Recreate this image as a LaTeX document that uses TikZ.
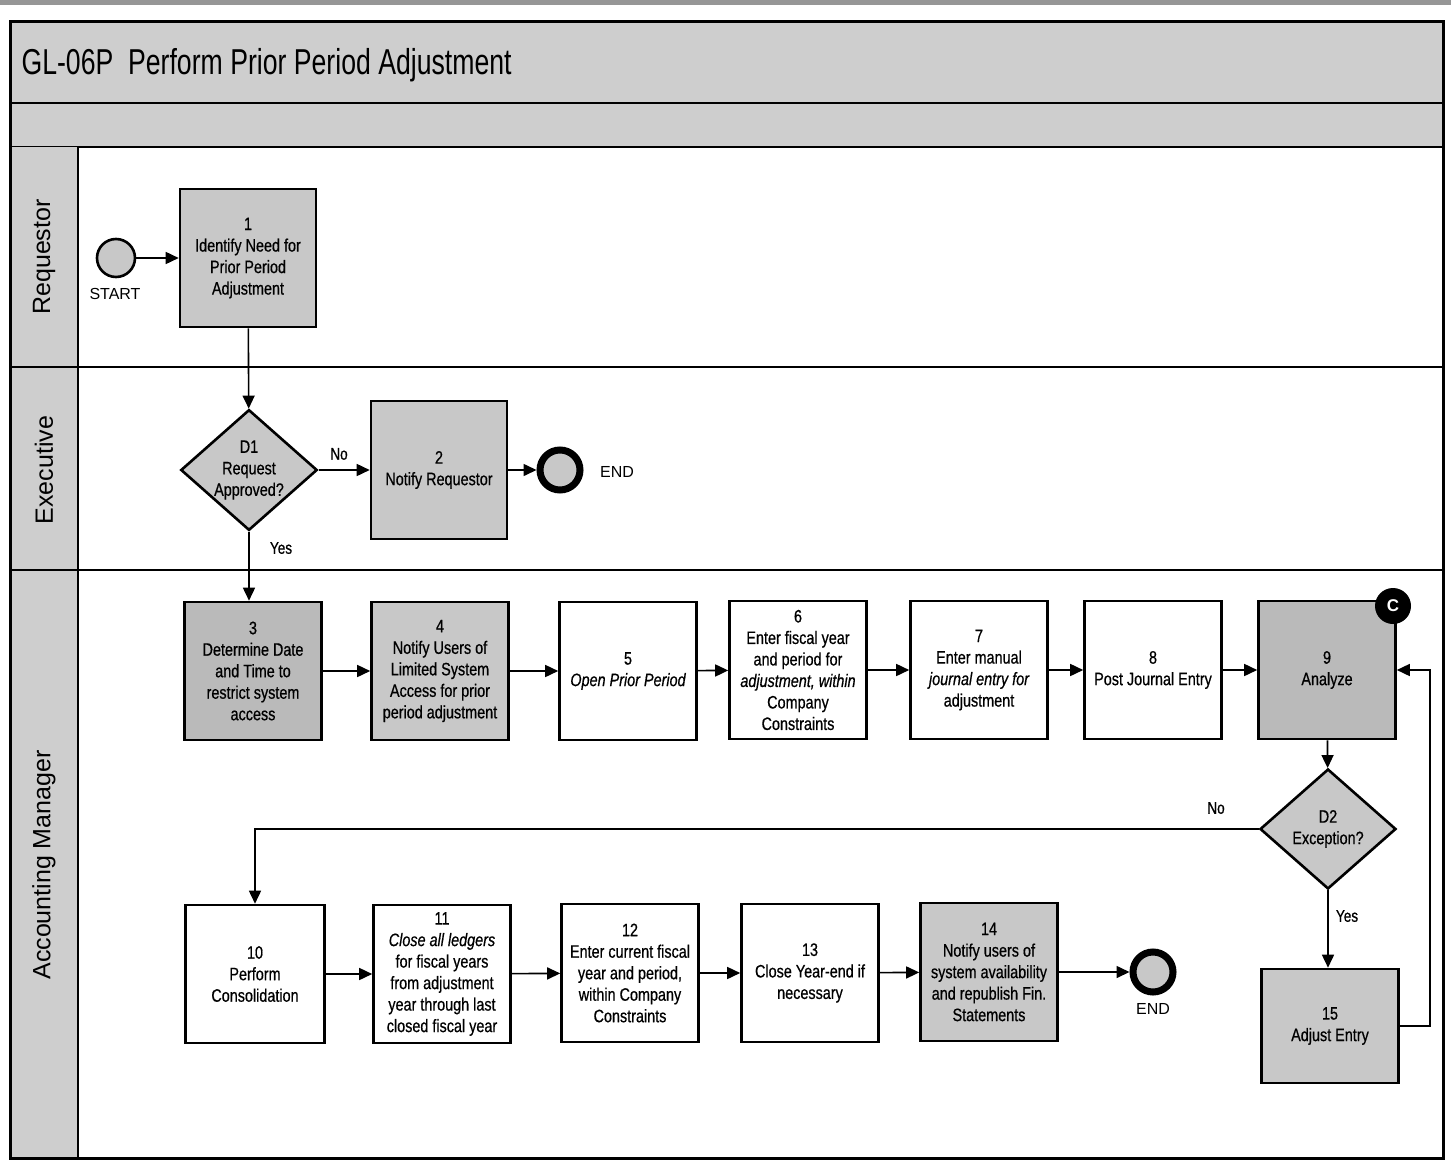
\documentclass[tikz,border=0pt]{standalone}
\usepackage{fontspec}
\setmainfont{Liberation Sans}
\newfontfamily\boxfont[FakeStretch=0.8,FakeBold=0.6]{Liberation Sans}
\newfontfamily\titlefont[FakeStretch=0.74]{Liberation Sans}
\usetikzlibrary{arrows.meta,shapes.geometric}
\definecolor{bandgray}{RGB}{206,206,206}
\definecolor{boxgray}{RGB}{200,200,200}
\definecolor{deepgray}{RGB}{186,186,186}
\definecolor{stripgray}{RGB}{150,150,150}
\begin{document}
\begin{tikzpicture}[x=1pt,y=-1pt,
  proc/.style={draw, line width=2.6pt, minimum width=137pt, minimum height=138pt,
    align=center, inner sep=1pt, font=\boxfont\fontsize{18}{21.5}\selectfont},
  grayproc/.style={proc, fill=boxgray},
  deepproc/.style={proc, fill=deepgray},
  decision/.style={draw, diamond, line width=2.6pt, fill=boxgray, aspect=1.13,
    minimum width=136pt, minimum height=120pt, inner sep=0pt, align=center,
    font=\boxfont\fontsize{18}{21.5}\selectfont},
  startev/.style={draw, circle, line width=2.6pt, fill=boxgray, minimum size=38pt, inner sep=0pt},
  endev/.style={draw, circle, line width=7pt, fill=boxgray, minimum size=40pt, inner sep=0pt},
  flow/.style={line width=1.6pt, -{Triangle[length=13pt,width=12pt]}},
  lbl/.style={font=\boxfont\fontsize{17}{20}\selectfont},
  evtext/.style={font=\fontsize{16}{19}\selectfont},
  lanetext/.style={rotate=90, font=\fontsize{25}{28}\selectfont},
  lane/.style={line width=2.6pt}
]
\useasboundingbox (0,0) rectangle (1451,1164);
\fill[white] (0,0) rectangle (1451,1164);
% scanned strip along the top edge
\fill[stripgray] (0,0) rectangle (1451,5);

% title and sub-title bands
\fill[bandgray] (10,22) rectangle (1443,147);
\draw[lane] (10,103) -- (1443,103);
\draw[lane] (10,147) -- (1443,147);
\node[anchor=west, font=\titlefont\fontsize{36}{40}\selectfont] (title) at (18,65) {GL-06P\ \ Perform Prior Period Adjustment};

% lane header column
\fill[bandgray] (10,147) rectangle (78,1158);
\draw[lane] (78,147) -- (78,1158);
\draw[lane] (10,367) -- (1443,367);
\draw[lane] (10,570) -- (1443,570);
\node[lanetext] (lreq) at (44,257) {Requestor};
\node[lanetext] (lexe) at (44,470) {Executive};
\node[lanetext] (lacc) at (44,865) {Accounting Manager};

% outer frame
\draw[line width=3pt] (10,22) rectangle (1443,1158);

% Requestor lane
\node[startev] (start) at (116,258) {};
\node[evtext] (starttxt) at (115,294) {START};
\node[grayproc, minimum width=136pt] (b1) at (248,258) {1\\Identify Need for\\Prior Period\\Adjustment};

% Executive lane
\node[decision] (d1) at (249,470) {D1\\Request\\Approved?};
\node[grayproc, minimum width=136pt] (b2) at (439,470) {2\\Notify Requestor};
\node[endev] (end1) at (560,470) {};
\node[evtext] (end1txt) at (617,472) {END};

% Accounting Manager lane, upper row
\node[deepproc] (b3) at (253,671) {3\\Determine Date\\and Time to\\restrict system\\access};
\node[grayproc] (b4) at (440,671) {4\\Notify Users of\\Limited System\\Access for prior\\period adjustment};
\node[proc] (b5) at (628,671) {5\\\itshape Open Prior Period};
\node[proc] (b6) at (798,670) {6\\Enter fiscal year\\and period for\\{\itshape adjustment, within}\\Company\\Constraints};
\node[proc] (b7) at (979,670) {7\\Enter manual\\{\itshape journal entry for}\\adjustment};
\node[proc] (b8) at (1153,670) {8\\Post Journal Entry};
\node[deepproc] (b9) at (1327,670) {9\\Analyze};
\node[circle, fill=black, minimum size=36pt, inner sep=0pt, text=white,
  font=\bfseries\fontsize{17}{20}\selectfont] (cmark) at (1393,606) {C};

% decision and correction loop
\node[decision] (d2) at (1328,829) {D2\\Exception?};
\node[grayproc, minimum height=114pt] (b15) at (1330,1026) {15\\Adjust Entry};

% Accounting Manager lane, lower row
\node[proc, minimum width=139pt] (b10) at (255,974) {10\\Perform\\Consolidation};
\node[proc] (b11) at (442,974) {11\\{\itshape Close all ledgers}\\for fiscal years\\from adjustment\\year through last\\closed fiscal year};
\node[proc] (b12) at (630,973) {12\\Enter current fiscal\\year and period,\\within Company\\Constraints};
\node[proc] (b13) at (810,973) {13\\Close Year-end if\\necessary};
\node[grayproc] (b14) at (989,972) {14\\Notify users of\\system availability\\and republish Fin.\\Statements};
\node[endev] (end2) at (1153,972) {};
\node[evtext] (end2txt) at (1153,1009) {END};

% connectors
\draw[flow] (start) -- (b1);
\draw[flow] (b1) -- (d1);
\draw[flow] (d1) -- (b2) node[lbl, pos=0.4, above=6pt] (no1) {No};
\draw[flow] (b2) -- (end1);
\draw[flow] (d1.south) -- (d1.south |- b3.north);
\node[lbl] (yes1) at (281,548) {Yes};
\draw[flow] (b3) -- (b4);
\draw[flow] (b4) -- (b5);
\draw[flow] (b5) -- (b6);
\draw[flow] (b6) -- (b7);
\draw[flow] (b7) -- (b8);
\draw[flow] (b8) -- (b9);
\draw[flow] (b9) -- (d2);
\draw[flow] (d2.west) -| (b10.north);
\node[lbl] (no2) at (1216,808) {No};
\draw[flow] (d2.south) -- (d2.south |- b15.north);
\node[lbl] (yes2) at (1347,916) {Yes};
\coordinate (loop) at (1430,1026);
\draw[flow] (b15.east) -- (loop) |- (b9.east);
\draw[flow] (b10) -- (b11);
\draw[flow] (b11) -- (b12);
\draw[flow] (b12) -- (b13);
\draw[flow] (b13) -- (b14);
\draw[flow] (b14) -- (end2);
\end{tikzpicture}
\end{document}
